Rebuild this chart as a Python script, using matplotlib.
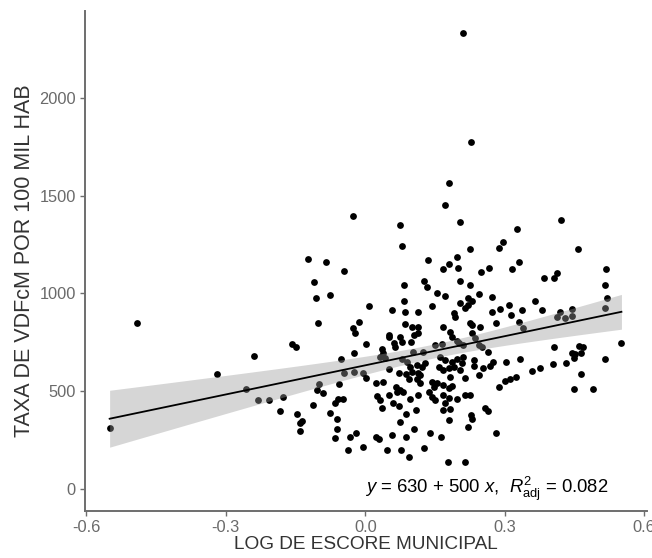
import numpy as np
import matplotlib
matplotlib.use("Agg")
import matplotlib.pyplot as plt

plt.rcParams['font.family'] = ['Liberation Sans', 'DejaVu Sans']
plt.rcParams['mathtext.fontset'] = 'custom'
plt.rcParams['mathtext.rm'] = 'Liberation Sans'
plt.rcParams['mathtext.it'] = 'Liberation Sans:italic'

x_log_escore = [
    -0.492, -0.319, -0.550, -0.257, -0.123, -0.085, -0.110, -0.107, -0.075, -0.101,
    -0.158, -0.149, -0.239, -0.231, -0.208, -0.176, -0.099, -0.103, -0.092, -0.057,
    -0.184, -0.146, -0.136, -0.140, -0.140, -0.112, -0.077, -0.059, -0.061, -0.060,
    -0.065, -0.027, 0.074, 0.080, -0.045, 0.083, 0.083, 0.009, 0.058, 0.085,
    0.113, -0.014, -0.027, 0.085, 0.100, 0.113, -0.023, 0.002, 0.050, 0.052,
    0.075, 0.080, 0.061, 0.063, 0.099, 0.113, -0.024, -0.052, 0.036, 0.039,
    0.032, 0.043, 0.050, -0.045, -0.025, -0.004, 0.002, 0.079, 0.090, 0.097,
    0.100, 0.088, 0.093, 0.072, 0.111, 0.113, 0.024, 0.039, 0.067, 0.075,
    0.068, 0.082, -0.047, -0.065, 0.025, 0.032, 0.050, 0.060, 0.072, 0.097,
    0.113, 0.036, 0.088, 0.074, 0.104, -0.032, -0.019, 0.022, 0.029, 0.057,
    0.088, -0.038, -0.004, 0.047, 0.077, 0.094, 0.179, 0.171, 0.204, 0.326,
    0.225, 0.288, 0.297, 0.135, 0.198, 0.179, 0.167, 0.199, 0.249, 0.267,
    0.315, 0.330, 0.127, 0.133, 0.203, 0.226, 0.154, 0.171, 0.245, 0.272,
    0.222, 0.229, 0.204, 0.222, 0.215, 0.143, 0.190, 0.192, 0.272, 0.289,
    0.310, 0.314, 0.226, 0.229, 0.281, 0.247, 0.167, 0.104, 0.183, 0.186,
    0.197, 0.229, 0.237, 0.330, 0.151, 0.165, 0.201, 0.211, 0.244, 0.251,
    0.125, 0.265, 0.103, 0.161, 0.172, 0.186, 0.197, 0.210, 0.208, 0.233,
    0.233, 0.275, 0.303, 0.129, 0.122, 0.158, 0.168, 0.179, 0.190, 0.204,
    0.254, 0.269, 0.244, 0.215, 0.118, 0.111, 0.117, 0.183, 0.143, 0.154,
    0.148, 0.168, 0.179, 0.186, 0.287, 0.301, 0.312, 0.325, 0.136, 0.143,
    0.151, 0.168, 0.179, 0.172, 0.197, 0.215, 0.226, 0.110, 0.168, 0.183,
    0.258, 0.263, 0.228, 0.229, 0.181, 0.220, 0.140, 0.163, 0.282, 0.127,
    0.178, 0.215, 0.421, 0.457, 0.518, 0.385, 0.407, 0.412, 0.515, 0.520,
    0.365, 0.380, 0.337, 0.444, 0.419, 0.412, 0.430, 0.444, 0.515, 0.340,
    0.551, 0.406, 0.459, 0.468, 0.445, 0.464, 0.448, 0.452, 0.515, 0.333,
    0.404, 0.432, 0.376, 0.358, 0.465, 0.448, 0.490, 0.211, 0.228,
]
y_taxa = [
    847, 586, 312, 510, 1177, 1159, 1057, 975, 994, 847,
    740, 727, 681, 453, 453, 470, 537, 506, 492, 535,
    397, 383, 348, 336, 295, 428, 390, 460, 358, 305,
    259, 1394, 1350, 1241, 1115, 1045, 961, 936, 917, 903,
    903, 854, 821, 844, 827, 827, 796, 740, 789, 776,
    776, 752, 745, 725, 750, 796, 695, 663, 714, 697,
    676, 668, 612, 595, 600, 592, 566, 663, 651, 625,
    600, 588, 561, 592, 634, 592, 543, 549, 523, 506,
    497, 497, 459, 441, 475, 455, 481, 441, 424, 459,
    481, 412, 383, 344, 305, 267, 288, 264, 257, 275,
    264, 199, 216, 199, 199, 165, 1566, 1452, 1363, 1331,
    1229, 1234, 1261, 1172, 1185, 1149, 1123, 1128, 1108, 1128,
    1123, 1159, 1063, 1034, 1063, 1043, 1000, 988, 995, 983,
    975, 961, 949, 941, 924, 937, 901, 881, 903, 919,
    941, 891, 850, 838, 847, 830, 830, 787, 804, 776,
    758, 796, 770, 855, 736, 741, 745, 736, 736, 724,
    702, 699, 702, 676, 660, 651, 663, 676, 646, 660,
    629, 651, 651, 643, 625, 625, 608, 617, 625, 608,
    617, 629, 583, 566, 583, 561, 540, 574, 549, 540,
    523, 532, 518, 527, 523, 552, 561, 574, 497, 472,
    455, 481, 464, 438, 459, 481, 481, 404, 404, 407,
    412, 400, 378, 356, 353, 315, 288, 264, 288, 208,
    140, 140, 1375, 1229, 1123, 1077, 1077, 1103, 1043, 975,
    963, 915, 915, 920, 903, 881, 873, 886, 924, 821,
    745, 725, 733, 725, 697, 697, 668, 690, 663, 663,
    638, 643, 617, 605, 586, 510, 510, 2331, 1774,
]

x_ticks = [-0.6, -0.3, 0.0, 0.3, 0.6]
x_tick_labels = ["-0.6", "-0.3", "0.0", "0.3", "0.6"]
y_ticks = [0, 500, 1000, 1500, 2000]
x_title = "LOG DE ESCORE MUNICIPAL"
y_title = "TAXA DE VDFcM POR 100 MIL HAB"
eq_label = r"$y$ = 630 + 500 $x$,  $R^2_{\mathrm{adj}}$ = 0.082"

x = np.array(x_log_escore)
y = np.array(y_taxa, dtype=float)

# linear fit and 95% confidence band
n = len(x)
X = np.column_stack([np.ones(n), x])
beta, *_ = np.linalg.lstsq(X, y, rcond=None)
resid = y - X @ beta
s2 = resid @ resid / (n - 2)
XtX_inv = np.linalg.inv(X.T @ X)
xg = np.linspace(x.min(), x.max(), 80)
Xg = np.column_stack([np.ones_like(xg), xg])
yg = Xg @ beta
se = np.sqrt(s2 * np.einsum('ij,jk,ik->i', Xg, XtX_inv, Xg))
tval = 1.969
lo, hi = yg - tval * se, yg + tval * se

y_lo, y_hi = -112, 2444

fig = plt.figure(figsize=(6.52, 5.58), dpi=100)
ax = fig.add_axes([85 / 652, 1 - 511 / 558, (647 - 85) / 652, (511 - 11) / 558])

ax.scatter(x, y, s=24, color='black', linewidths=0, zorder=2)
ax.fill_between(xg, lo, hi, color='#999999', alpha=0.4, linewidth=0, zorder=3)
ax.plot(xg, yg, color='black', linewidth=1.3, zorder=4)

ax.set_xlim(-0.603, 0.606)
ax.set_ylim(y_lo, y_hi)
ax.set_xticks(x_ticks)
ax.set_xticklabels(x_tick_labels)
ax.set_yticks(y_ticks)

for side in ['top', 'right']:
    ax.spines[side].set_visible(False)
for side in ['left', 'bottom']:
    ax.spines[side].set_color('#6e6e6e')
    ax.spines[side].set_linewidth(1.4)
ax.tick_params(axis='both', direction='out', length=3.5, width=1.0,
               color='#6e6e6e', labelcolor='#6a6a6a', labelsize=11.8, pad=3)

ax.set_xlabel(x_title, fontsize=13.7, color='#333333', labelpad=1)
ax.set_ylabel(y_title, fontsize=15.5, color='#333333', labelpad=3)

ax.text(0.931, (0 - y_lo) / (y_hi - y_lo), eq_label, transform=ax.transAxes,
        ha='right', va='center', fontsize=13.3, color='black')

fig.savefig("out.png", dpi=100)
